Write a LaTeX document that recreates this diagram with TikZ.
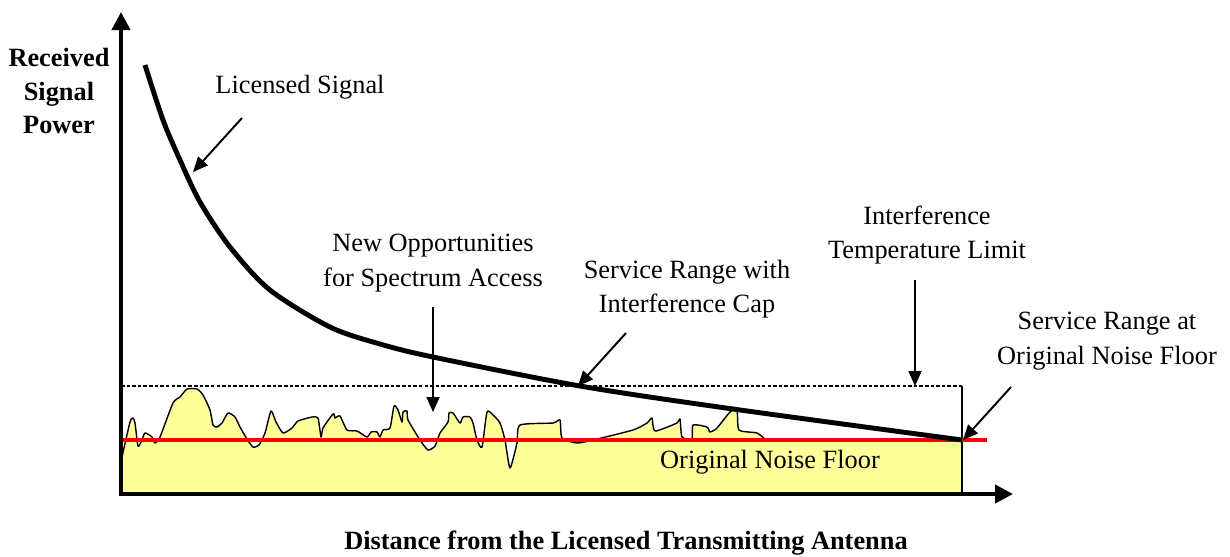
\documentclass[tikz,border=0pt]{standalone}
\usepackage{fontspec}
\setmainfont{Liberation Serif}
\usepackage{xcolor}
\usepackage{tikz}
\usetikzlibrary{arrows.meta, positioning}

\definecolor{noiseyellow}{RGB}{255,255,153}

\begin{document}
\begin{tikzpicture}[x=0.02cm,y=-0.02cm,
    lbl/.style={align=center,font=\fontsize{15}{19.5}\selectfont,inner sep=0pt},
    axlbl/.style={align=center,font=\fontsize{15}{19.3}\selectfont\bfseries,inner sep=0pt},
    pointer/.style={-{Triangle[length=0.3cm,width=0.26cm]},line width=1.1pt},
    axis/.style={-{Triangle[length=0.36cm,width=0.36cm]},line width=2.3pt}]
    \useasboundingbox (0,0) rectangle (1230,556);

    % noise region
    \draw[fill=noiseyellow,line width=0.8pt,line join=round] (121,494) -- (121,457)
        -- plot[smooth,tension=0.35] coordinates {(122,457) (130,422) (133,418) (135,423) (138,446)
        (141,442) (145,433) (152,437) (155,443) (160,437) (173,403) (180,397)
        (187,389) (197,389) (203,395) (210,410) (213,425) (217,427) (222,423)
        (228,413) (235,417) (240,427) (247,439) (253,447) (259,445) (265,433)
        (271,411) (276,422) (283,433) (292,428) (298,421) (312,417) (318,418)
        (321,437) (323,428) (332,415) (334,414) (335,418) (340,416) (347,430)
        (357,431) (367,437) (371,432) (377,432) (380,437) (383,430) (390,428)
        (394,406) (398,410) (402,422) (403,412) (407,411) (408,420) (420,440)
        (428,450) (435,446) (440,433) (448,422) (449,413) (453,413) (460,423)
        (463,417) (470,417) (473,423) (477,440) (482,447) (487,412) (493,415)
        (500,423) (505,440) (510,468) (517,443) (520,425) (553,423) (560,420)
        (562,438) (577,443) (593,440) (633,430) (647,423) (652,418) (655,431)
        (677,423) (680,419) (682,437) (692,439) (693,425) (707,427) (710,432)
        (717,428) (730,412) (737,410) (739,430) (757,433) (767,441)}
        -- (962,441) -- (962,494) -- cycle;

    % interference cap
    \draw[line width=1.5pt,dash pattern=on 2pt off 1.2pt] (121,386) -- (962,386);
    \draw[line width=0.6pt] (962,386) -- (962,494);
    \draw[red,line width=2.2pt] (121,440) -- (987,440);

    % licensed signal
    \draw[line width=2.8pt] plot[smooth] coordinates {(145,65) (163,120) (180,160) (200,202)
        (230,247) (270,290) (330,327) (380,344) (433,357) (580,386) (733,409) (962,440)};

    % axes
    \draw[axis] (121,496) -- (121,12);
    \draw[axis] (119,494) -- (1013,494);

    \node[lbl] (lic) at (300,87) {Licensed Signal};
    \node[lbl] (opp) at (433,263) {New Opportunities\\for Spectrum Access};
    \node[lbl] (cap) at (687,289) {Service Range with\\Interference Cap};
    \node[lbl] (itl) at (927,235) {Interference\\Temperature Limit};
    \node[lbl] (orig) at (1107,341) {Service Range at\\Original Noise Floor};
    \node[lbl] (floor) at (770,462) {Original Noise Floor};
    \node[axlbl] (ylab) at (59,91) {Received\\Signal\\Power};
    \node[axlbl] (xlab) at (626,543) {Distance from the Licensed Transmitting Antenna};

    \coordinate (lic-s) at (242,118);  \coordinate (lic-e) at (193,172);
    \coordinate (opp-s) at (433,307);  \coordinate (opp-e) at (433,412);
    \coordinate (cap-s) at (626,333);  \coordinate (cap-e) at (578,386);
    \coordinate (itl-s) at (915,280);  \coordinate (itl-e) at (915,386);
    \coordinate (orig-s) at (1011,387); \coordinate (orig-e) at (963,440);

    \draw[pointer] (lic-s) -- (lic-e);
    \draw[pointer] (opp-s) -- (opp-e);
    \draw[pointer] (cap-s) -- (cap-e);
    \draw[pointer] (itl-s) -- (itl-e);
    \draw[pointer] (orig-s) -- (orig-e);
\end{tikzpicture}
\end{document}
